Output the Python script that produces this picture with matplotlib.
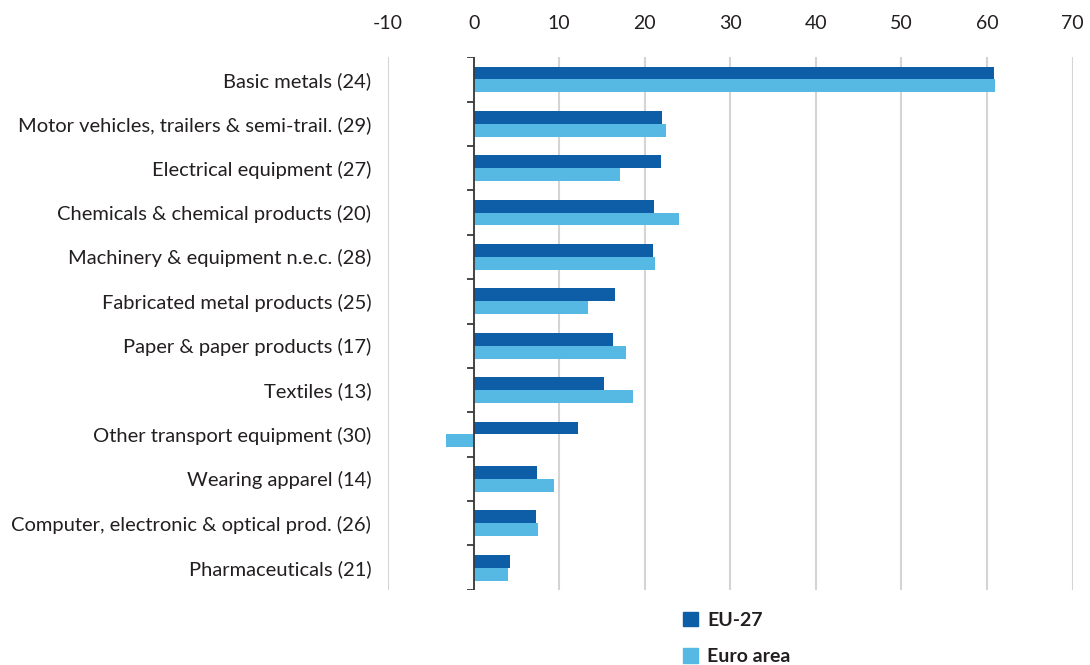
import numpy as np
import matplotlib
matplotlib.use('Agg')
import matplotlib.pyplot as plt
from matplotlib.patches import Patch

plt.rcParams['font.family'] = ['Lato', 'DejaVu Sans']
plt.rcParams['axes.unicode_minus'] = False

# data
categories = [
    'Basic metals (24)',
    'Motor vehicles, trailers & semi-trail. (29)',
    'Electrical equipment (27)',
    'Chemicals & chemical products (20)',
    'Machinery & equipment n.e.c. (28)',
    'Fabricated metal products (25)',
    'Paper & paper products (17)',
    'Textiles (13)',
    'Other transport equipment (30)',
    'Wearing apparel (14)',
    'Computer, electronic & optical prod. (26)',
    'Pharmaceuticals (21)',
]
eu27 = [60.8, 22.0, 21.9, 21.1, 21.0, 16.5, 16.3, 15.2, 12.2, 7.4, 7.3, 4.3]
euro_area = [60.9, 22.5, 17.1, 24.0, 21.2, 13.4, 17.8, 18.6, -3.2, 9.4, 7.5, 4.0]
xticks = [-10, 0, 10, 20, 30, 40, 50, 60, 70]

c_eu = '#0d5ea6'
c_ea = '#56b9e3'
txt = '#231f20'

fig = plt.figure(figsize=(10.9, 6.65), dpi=100)
ax = fig.add_axes([0.356, 0.113, 0.628, 0.801])

y = np.arange(len(categories))
h = 0.29
ax.barh(y - h / 2, eu27, height=h, color=c_eu, zorder=3)
ax.barh(y + h / 2, euro_area, height=h, color=c_ea, zorder=3)

ax.set_xlim(-10, 70)
ax.set_ylim(len(categories) - 0.5, -0.5)
ax.set_xticks(xticks)
ax.xaxis.tick_top()
ax.tick_params(axis='x', length=0, pad=18, labelsize=14, labelcolor=txt)
ax.set_yticks(y)
ax.set_yticklabels(categories)
ax.tick_params(axis='y', length=0, pad=12, labelsize=14.5, labelcolor=txt)

ax.grid(axis='x', color='#d4d4d4', linewidth=1.5, zorder=0)
for s in ax.spines.values():
    s.set_visible(False)

# zero axis line with small ticks at category boundaries
ax.axvline(0, color='#3a3a3a', linewidth=1.3, zorder=4)
bounds = np.arange(len(categories) + 1) - 0.5
ax.hlines(bounds, -0.8, 0, color='#3a3a3a', linewidth=1.3, zorder=4)

handles = [Patch(color=c_eu), Patch(color=c_ea)]
leg = fig.legend(handles, ['EU-27', 'Euro area'], loc='upper left',
                 bbox_to_anchor=(0.6175, 0.095), frameon=False,
                 prop={'size': 14, 'weight': 'bold'},
                 handlelength=0.8, handleheight=0.8, handletextpad=0.45,
                 labelspacing=1.0, borderpad=0)
for t in leg.get_texts():
    t.set_color(txt)

fig.savefig('out.png', dpi=100)
